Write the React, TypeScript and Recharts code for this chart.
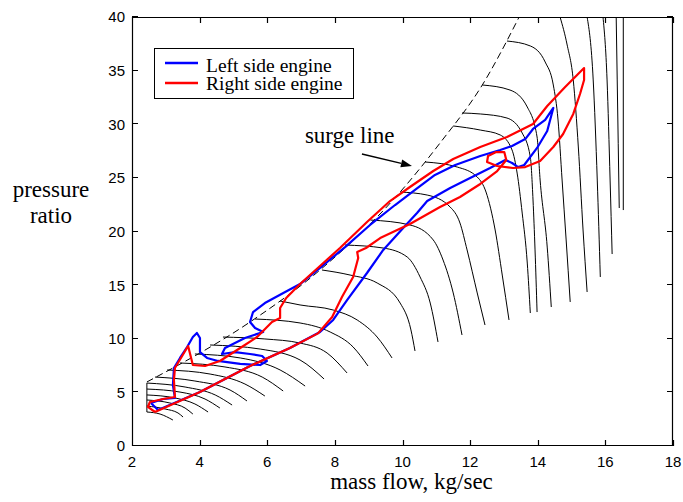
import { ComposedChart, Line, XAxis, YAxis, Legend, ReferenceLine, Label } from 'recharts'

type Pt = [number, number]

const xTicks = [2, 4, 6, 8, 10, 12, 14, 16, 18]
const yTicks = [0, 5, 10, 15, 20, 25, 30, 35, 40]

// surge line, dashed
const surgeLine: Pt[] = [[2.44, 5.97], [5.49, 11.56], [7.56, 16.41], [9.93, 23.68], [11.11, 28.25], [12.36, 33.66], [13.45, 40]]

// left edge of the map at the lowest speeds
const mapEdge: Pt[] = [[2.44, 5.87], [2.44, 3.17]]

// constant speed lines, low speeds
const lowSpeedLines: Pt[][] = [
  [[2.44, 3.17], [2.83, 2.98], [3.21, 2.42]],
  [[2.44, 3.73], [2.98, 3.45], [3.36, 3.08], [3.51, 2.7]],
  [[2.44, 4.29], [3.12, 4.01], [3.57, 3.54], [3.8, 2.98]],
  [[2.44, 4.76], [3.27, 4.48], [3.86, 3.92], [4.25, 3.17]],
  [[2.44, 5.31], [3.42, 5.03], [4.16, 4.38], [4.6, 3.54]],
  [[2.44, 5.87], [3.57, 5.5], [4.46, 4.76], [4.96, 3.82]],
  [[2.68, 6.43], [3.86, 6.06], [4.9, 5.22], [5.4, 4.2]],
  [[3.04, 7.09], [4.31, 6.71], [5.34, 5.78], [5.93, 4.66]],
  [[3.42, 7.74], [4.75, 7.37], [5.85, 6.43], [6.47, 5.13]],
  [[3.86, 8.58], [5.2, 8.21], [6.38, 7.09], [7.12, 5.59]],
  [[4.31, 9.42], [5.79, 9.04], [6.97, 8.02], [7.68, 6.25]],
]

// mid speeds
const midSpeedLines: Pt[][] = [
  [[4.69, 10.16], [5.93, 9.98], [6.97, 9.6], [7.77, 8.67], [8.36, 6.81]],
  [[5.64, 11.84], [6.97, 11.47], [7.86, 10.63], [8.54, 9.23], [8.98, 7.46]],
  [[6.38, 13.52], [6.97, 13.15], [7.95, 12.68], [8.66, 11.75], [9.25, 10.16], [9.69, 8.21]],
  [[7.62, 16.41], [8.45, 15.94], [9.25, 15.2], [9.93, 13.33], [10.25, 10.82], [10.37, 8.86]],
  [[8.3, 18.74], [9.43, 18.46], [10.14, 17.62], [10.52, 15.76], [10.82, 13.33], [11.05, 9.7]],
  [[9.05, 21.07], [10.22, 20.61], [10.91, 19.21], [11.2, 17.34], [11.5, 14.27], [11.76, 10.35]],
  [[9.93, 23.68], [10.73, 23.4], [11.41, 22.28], [11.7, 20.79], [11.91, 18.28], [12.21, 14.27], [12.44, 11.28]],
]

// high speeds
const highSpeedLines: Pt[][] = [
  [[10.67, 26.48], [11.62, 26.01], [12.21, 25.08], [12.47, 23.68], [12.74, 20.14], [12.95, 15.94], [13.15, 11.75]],
  [[11.5, 29.84], [12.3, 29.46], [12.89, 29.0], [13.24, 27.6], [13.39, 25.45], [13.54, 21.72], [13.69, 17.06], [13.78, 12.4]],
  [[11.76, 31.05], [12.3, 30.96], [13.09, 30.58], [13.54, 29.18], [13.78, 26.95], [13.86, 22.94], [13.92, 18.28], [13.98, 12.49]],
  [[12.36, 33.66], [13.18, 33.19], [13.69, 31.61], [13.98, 28.81], [14.07, 24.8], [14.28, 18.55], [14.4, 12.96]],
  [[13.09, 37.76], [13.78, 37.3], [14.22, 35.8], [14.46, 33.66], [14.6, 30.4], [14.72, 24.8], [14.84, 19.21], [14.96, 13.43]],
  [[14.66, 40], [14.87, 37.39], [15.05, 34.13], [15.2, 27.88], [15.34, 20.14], [15.46, 14.36]],
  [[15.46, 40], [15.64, 34.13], [15.76, 24.8], [15.85, 15.76]],
  [[15.93, 40], [16.05, 34.13], [16.14, 24.8], [16.2, 17.9]],
  [[16.32, 40], [16.35, 34.13], [16.41, 22.19]],
]
const topSpeedLine: Pt[] = [[16.53, 40], [16.53, 22.0]]

// operating trajectories
const leftEngine: Pt[] = [
  [2.56, 4.01], [2.77, 3.36], [4.01, 5.03], [5.49, 7.46], [6.67, 9.14], [7.56, 10.63], [7.95, 11.75],
  [8.36, 13.61], [8.95, 16.13], [9.43, 18.28], [10.02, 20.33], [10.43, 21.72], [10.73, 22.84],
  [11.41, 24.06], [12.0, 24.99], [12.59, 25.92], [13.04, 26.67], [13.24, 26.39], [13.42, 26.01],
  [13.6, 26.2], [13.98, 27.79], [14.28, 29.37], [14.46, 31.52], [14.22, 30.4], [13.86, 29.56],
  [13.63, 28.62], [13.24, 27.97], [12.89, 27.6], [12.3, 27.04], [11.56, 26.2], [10.96, 25.27],
  [10.37, 23.87], [9.78, 22.47], [9.04, 20.61], [8.3, 18.55], [7.56, 16.6], [6.97, 15.1],
  [6.53, 14.36], [5.93, 13.33], [5.58, 12.49], [5.49, 11.56], [5.64, 11.0], [5.88, 10.63],
  [5.34, 10.07], [4.75, 9.14], [4.66, 8.58], [5.05, 8.76], [5.49, 8.58], [5.85, 8.39],
  [5.99, 7.93], [5.79, 7.55], [5.2, 7.65], [4.54, 7.93], [4.22, 8.21], [4.01, 8.76],
  [4.01, 10.07], [3.92, 10.54], [3.8, 10.16], [3.63, 9.23], [3.42, 8.21], [3.24, 7.27],
  [3.21, 5.69], [3.27, 4.48], [2.92, 4.38], [2.56, 4.01],
]

const rightEngine: Pt[] = [
  [2.68, 3.17], [4.01, 5.03], [5.49, 7.46], [6.67, 9.14], [7.5, 10.5], [7.92, 12.03], [8.21, 13.89],
  [8.54, 15.76], [8.69, 17.53], [8.66, 18.09], [8.92, 18.46], [9.34, 19.39], [10.22, 20.7],
  [11.11, 22.28], [11.7, 23.22], [12.3, 24.43], [12.8, 25.64], [13.07, 26.67], [13.01, 27.41],
  [12.77, 27.41], [12.53, 27.04], [12.5, 26.48], [12.8, 26.11], [13.27, 25.92], [13.63, 26.01],
  [14.07, 26.57], [14.46, 27.88], [14.75, 29.09], [15.05, 30.96], [15.25, 32.82], [15.37, 34.13],
  [15.37, 35.24], [14.81, 33.47], [14.28, 31.7], [13.86, 30.02], [13.09, 28.81], [12.3, 27.88],
  [11.5, 26.76], [10.91, 25.64], [10.22, 24.15], [9.63, 22.84], [8.95, 20.89], [8.15, 18.46],
  [7.56, 16.78], [6.97, 15.1], [6.56, 13.8], [6.38, 12.87], [6.38, 11.93], [6.14, 11.56],
  [5.7, 10.16], [5.2, 9.14], [4.6, 7.93], [4.16, 7.46], [3.8, 7.55], [3.66, 9.32], [3.27, 7.27],
  [3.24, 6.15], [3.27, 4.57], [2.92, 4.38], [2.53, 4.1], [2.47, 3.64], [2.68, 3.17],
]

// annotation arrow pointing at the surge line
const arrowFrom = { x: 8.8, y: 27.23 }
const arrowTo = { x: 10.28, y: 26.11 }

const serif = '"Liberation Serif", "Times New Roman", Times, serif'
const sans = '"Liberation Sans", Arial, Helvetica, sans-serif'

const W = 683
const H = 502
const PLOT = { left: 132, top: 17, right: 673, bottom: 446 }

const X0 = xTicks[0]
const X1 = xTicks[xTicks.length - 1]
const Y0 = yTicks[0]
const Y1 = yTicks[yTicks.length - 1]

const rows = (pts: Pt[]) => pts.map(([x, y]) => ({ x, y }))

function BottomTick({ x, y, payload }: any) {
  return (
    <text x={x} y={y + 21} textAnchor="middle" fontFamily={sans} fontSize={15} fill="#000">{payload.value}</text>
  )
}

function LeftTick({ x, y, payload }: any) {
  return (
    <text x={x - 7} y={y} dy="0.36em" textAnchor="end" fontFamily={sans} fontSize={15} fill="#000">{payload.value}</text>
  )
}

// box around the plot with inward ticks on every side; gets the pixel corners of (X0,Y0) and (X1,Y1)
function PlotFrame({ x1, y1, x2, y2 }: any) {
  const left = Math.round(Math.min(x1, x2))
  const right = Math.round(Math.max(x1, x2))
  const top = Math.round(Math.min(y1, y2))
  const bottom = Math.round(Math.max(y1, y2))
  const px = (v: number) => Math.round(left + ((v - X0) / (X1 - X0)) * (right - left)) + 0.5
  const py = (v: number) => Math.round(bottom - ((v - Y0) / (Y1 - Y0)) * (bottom - top)) - 0.5
  const t = 6
  let d = `M${left + 0.5},${top + 0.5}H${right - 0.5}V${bottom - 0.5}H${left + 0.5}Z`
  xTicks.forEach((v) => {
    const x = px(v)
    d += `M${x},${bottom}v${-t}M${x},${top}v${t}`
  })
  yTicks.forEach((v) => {
    const y = py(v)
    d += `M${left},${y}h${t}M${right},${y}h${-t}`
  })
  return <path d={d} fill="none" stroke="#000" strokeWidth={1.2} />
}

function XTitle({ viewBox }: any) {
  return (
    <text x={viewBox.x + viewBox.width / 2 + 9} y={viewBox.y + 43} textAnchor="middle" fontFamily={serif} fontSize={23} fill="#000">
      mass flow, kg/sec
    </text>
  )
}

function YTitle({ viewBox }: any) {
  return (
    <text textAnchor="middle" fontFamily={serif} fontSize={23} fill="#000">
      <tspan x={51} y={viewBox.y + 180}>pressure</tspan>
      <tspan x={51} y={viewBox.y + 206}>ratio</tspan>
    </text>
  )
}

function SurgeArrow({ x1, y1, x2, y2 }: any) {
  const a = Math.atan2(y2 - y1, x2 - x1)
  const len = 11
  const w = 4
  const bx = x2 - len * Math.cos(a)
  const by = y2 - len * Math.sin(a)
  const pts = `${x2},${y2} ${bx - w * Math.sin(a)},${by + w * Math.cos(a)} ${bx + w * Math.sin(a)},${by - w * Math.cos(a)}`
  return (
    <g>
      <line x1={x1} y1={y1} x2={bx} y2={by} stroke="#000" strokeWidth={1.4} />
      <polygon points={pts} fill="#000" />
      <text x={x1 - 57} y={y1 - 11} fontFamily={serif} fontSize={23} fill="#000">surge line</text>
    </g>
  )
}

function LegendBox() {
  return (
    <svg width={200} height={51} style={{ display: 'block' }}>
      <rect x={0.5} y={0.5} width={199} height={50} fill="#fff" stroke="#000" />
      <line x1={11} x2={44} y1={15} y2={15} stroke="#0000ff" strokeWidth={2.5} />
      <line x1={11} x2={44} y1={35} y2={35} stroke="#ff0000" strokeWidth={2.5} />
      <text x={52} y={23.5} fontFamily={serif} fontSize={19.5} fill="#000">Left side engine</text>
      <text x={52} y={41.5} fontFamily={serif} fontSize={19.5} fill="#000">Right side engine</text>
    </svg>
  )
}

const plain = { dot: false, activeDot: false, legendType: 'none' as const, isAnimationActive: false }

export default function App() {
  const speed = [...lowSpeedLines, ...midSpeedLines, ...highSpeedLines]
  return (
    <div style={{ position: 'absolute', left: 0, top: 0, width: W, height: H, background: '#fff' }}>
      <ComposedChart width={W} height={H} margin={{ top: PLOT.top, right: W - PLOT.right, bottom: 0, left: 0 }}>
        <XAxis type="number" dataKey="x" domain={[X0, X1]} ticks={xTicks} interval={0}
          height={H - PLOT.bottom} tickSize={0} tickMargin={0} tickLine={false} tick={BottomTick} axisLine={false}>
          <Label content={XTitle} />
        </XAxis>
        <YAxis type="number" dataKey="y" domain={[Y0, Y1]} ticks={yTicks} interval={0}
          width={PLOT.left} tickSize={0} tickMargin={0} tickLine={false} tick={LeftTick} axisLine={false}>
          <Label content={YTitle} />
        </YAxis>

        {speed.map((pts, i) => (
          <Line key={'s' + i} data={rows(pts)} dataKey="y" type="monotone" stroke="#000" strokeWidth={1} {...plain} />
        ))}
        <Line data={rows(topSpeedLine)} dataKey="y" type="linear" stroke="#000" strokeWidth={1} {...plain} />
        <Line data={rows(mapEdge)} dataKey="y" type="linear" stroke="#000" strokeWidth={1} {...plain} />
        <Line data={rows(surgeLine)} dataKey="y" type="monotone" stroke="#000" strokeWidth={1} strokeDasharray="7 4" {...plain} />
        <Line data={rows(leftEngine)} dataKey="y" name="Left side engine" type="linear" stroke="#0000ff" strokeWidth={2.2}
          strokeLinejoin="round" dot={false} activeDot={false} isAnimationActive={false} />
        <Line data={rows(rightEngine)} dataKey="y" name="Right side engine" type="linear" stroke="#ff0000" strokeWidth={2.2}
          strokeLinejoin="round" dot={false} activeDot={false} isAnimationActive={false} />

        <ReferenceLine segment={[{ x: X0, y: Y0 }, { x: X1, y: Y1 }]} ifOverflow="visible" shape={PlotFrame} />
        <ReferenceLine segment={[arrowFrom, arrowTo]} ifOverflow="visible" shape={SurgeArrow} />
        <Legend content={LegendBox} layout="vertical" align="center" verticalAlign="middle"
          wrapperStyle={{ left: 154, top: 48, width: 200, height: 51 }} />
      </ComposedChart>
    </div>
  )
}
